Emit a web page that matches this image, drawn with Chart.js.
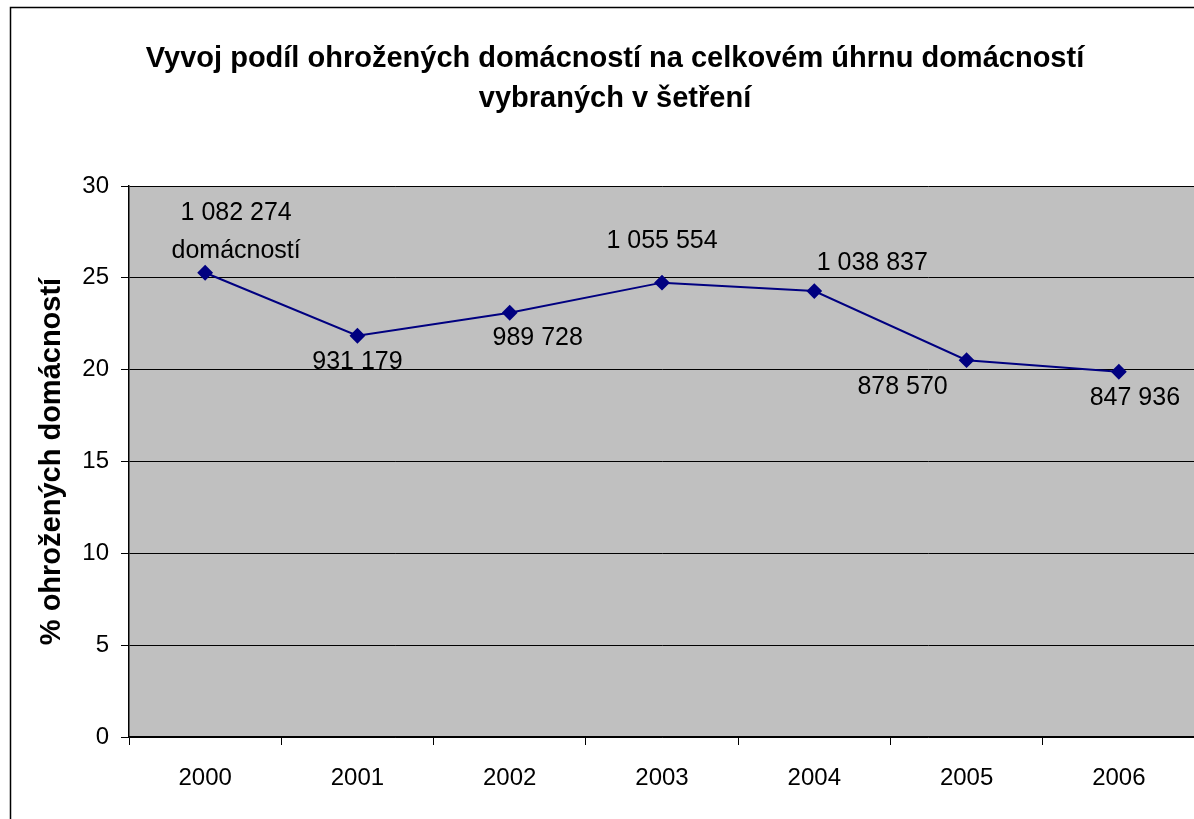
<!DOCTYPE html>
<html>
<head>
<meta charset="utf-8">
<script src="https://cdn.jsdelivr.net/npm/chart.js@4.4.1/dist/chart.umd.min.js"></script>
<style>
  html, body { margin: 0; padding: 0; background: #fff; overflow: hidden; }
  #wrap { width: 1200px; height: 819px; }
</style>
</head>
<body>
<div id="wrap"><canvas id="chart" width="1200" height="819"></canvas></div>
<script>
// ===== DATA =====
const years = ['2000', '2001', '2002', '2003', '2004', '2005', '2006'];
const sharePct = [25.28, 21.85, 23.10, 24.74, 24.28, 20.52, 19.89];
const householdCounts = [['1 082 274', 'domácností'], ['931 179'], ['989 728'], ['1 055 554'], ['1 038 837'], ['878 570'], ['847 936']];
const yTicks = [0, 5, 10, 15, 20, 25, 30];

// label offsets from the marker (px)
const labelOffsets = [[31, -60], [0, 26], [28, 25], [0, -42], [58, -28], [-64, 27], [16, 26]];

const FONT = '"Liberation Sans", Arial, sans-serif';

// ===== PLUGINS =====
const frame = {
  id: 'frame',
  beforeDraw(chart) {
    const { ctx, chartArea: a } = chart;
    ctx.save();
    ctx.fillStyle = '#c0c0c0';
    ctx.fillRect(a.left, a.top, a.right - a.left, a.bottom - a.top);
    ctx.strokeStyle = '#000';
    ctx.lineWidth = 1.5;
    ctx.beginPath();
    ctx.moveTo(10.5, chart.height + 5);
    ctx.lineTo(10.5, 7.5);
    ctx.lineTo(chart.width + 5, 7.5);
    ctx.stroke();
    ctx.restore();
  }
};

const pointLabels = {
  id: 'pointLabels',
  afterDatasetsDraw(chart) {
    const { ctx } = chart;
    const meta = chart.getDatasetMeta(0);
    ctx.save();
    ctx.font = '25px ' + FONT;
    ctx.fillStyle = '#000';
    ctx.textAlign = 'center';
    ctx.textBaseline = 'middle';
    meta.data.forEach((pt, i) => {
      const [dx, dy] = labelOffsets[i];
      householdCounts[i].forEach((txt, j) => {
        ctx.fillText(txt, pt.x + dx, pt.y + dy + j * 38);
      });
    });
    ctx.restore();
  }
};

// ===== CHART =====
new Chart(document.getElementById('chart'), {
  type: 'line',
  data: {
    labels: years,
    datasets: [{
      data: sharePct,
      borderColor: '#000080',
      backgroundColor: '#000080',
      borderWidth: 2,
      pointStyle: 'rectRot',
      pointRadius: 6.5,
      pointHoverRadius: 6.5,
      tension: 0
    }]
  },
  options: {
    responsive: false,
    animation: false,
    events: [],
    layout: { autoPadding: false, padding: { left: 35, right: 5, top: 0, bottom: 0 } },
    plugins: {
      legend: { display: false },
      tooltip: { enabled: false },
      title: {
        display: true,
        text: ['Vyvoj podíl ohrožených domácností na celkovém úhrnu domácností', 'vybraných v šetření'],
        color: '#000',
        font: { family: FONT, size: 29, weight: 'bold', lineHeight: 1.38 },
        padding: { top: 39, bottom: 67 }
      }
    },
    scales: {
      x: {
        offset: true,
        grid: { offset: true, drawOnChartArea: false, drawTicks: true, tickLength: 8, color: '#000', lineWidth: 1 },
        border: { color: '#000', width: 1.5 },
        ticks: { color: '#000', font: { family: FONT, size: 24 }, padding: 19, maxRotation: 0 },
        afterFit(scale) {
          scale.height = 82;
          scale.paddingLeft = 0;
          scale.paddingRight = 0;
        }
      },
      y: {
        min: 0,
        max: 30,
        afterBuildTicks(scale) { scale.ticks = yTicks.map(v => ({ value: v })); },
        grid: { color: '#000', lineWidth: 1, tickLength: 8 },
        border: { color: '#000', width: 1.5 },
        ticks: { color: '#000', font: { family: FONT, size: 24 }, padding: 12 },
        title: {
          display: true,
          text: '% ohrožených domácností',
          color: '#000',
          font: { family: FONT, size: 29, weight: 'bold' },
          padding: { top: 0, bottom: 0 }
        },
        afterFit(scale) { scale.width = 129 - 35; }
      }
    }
  },
  plugins: [frame, pointLabels]
});
</script>
</body>
</html>
